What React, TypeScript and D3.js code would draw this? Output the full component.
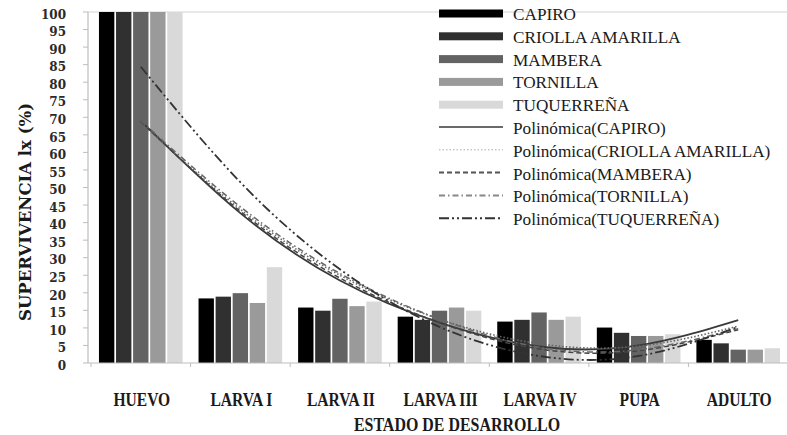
import React from "react";
import * as d3 from "d3";

const categories = ["HUEVO", "LARVA I", "LARVA II", "LARVA III", "LARVA IV", "PUPA", "ADULTO"];
const seriesNames = ["CAPIRO", "CRIOLLA AMARILLA", "MAMBERA", "TORNILLA", "TUQUERREÑA"];
const capiro = [100, 18.4, 15.8, 13.2, 11.8, 10.1, 6.6];
const criolla = [100, 18.9, 14.9, 12.3, 12.3, 8.6, 5.6];
const mambera = [100, 19.9, 18.3, 14.9, 14.4, 7.7, 3.8];
const tornilla = [100, 17.1, 16.2, 15.8, 12.3, 7.7, 3.8];
const tuquerrena = [100, 27.3, 17.5, 14.9, 13.2, 8.2, 4.2];
// polynomial trend curves read at each category
const trendCapiro = [69, 42.7, 23.5, 11.5, 4.7, 5, 12.2];
const trendCriolla = [68.5, 43.8, 25, 12.5, 5.5, 4.8, 10.5];
const trendMambera = [68.8, 43.2, 24.2, 11.5, 4, 3.5, 9.5];
const trendTornilla = [69, 44.5, 25.5, 12.5, 4.5, 3.8, 9.8];
const trendTuquerrena = [84.4, 51.5, 26.7, 10.3, 2, 2, 10.3];
const yTicks = d3.range(0, 101, 5);

const barValues = [capiro, criolla, mambera, tornilla, tuquerrena];
const trendValues = [trendCapiro, trendCriolla, trendMambera, trendTornilla, trendTuquerrena];
const barColors = ["#000000", "#303030", "#636363", "#9a9a9a", "#d9d9d9"];
const trendStyles = [
  { stroke: "#3a3a3a", width: 1.8, dash: "none", legendStroke: "#6a6a6a" },
  { stroke: "#666666", width: 1.6, dash: "1.5,2", legendStroke: "#aaaaaa" },
  { stroke: "#444444", width: 1.5, dash: "5,3", legendStroke: "#555555" },
  { stroke: "#666666", width: 1.5, dash: "6,3,1.5,3", legendStroke: "#888888" },
  { stroke: "#333333", width: 1.8, dash: "10,3,2,3,2,3", legendStroke: "#333333" },
];

export default function App() {
  const W = 787, H = 435;
  const axisX = 88;
  const x0 = d3.scaleBand<string>().domain(categories).range([91, 788]).paddingInner(0.16).paddingOuter(0.08);
  const x1 = d3.scaleBand<string>().domain(seriesNames).range([0, x0.bandwidth()]).paddingInner(0.1);
  const y = d3.scaleLinear().domain([0, 100]).range([363, 12]);
  const step = x0.step();
  const bandStart = (c: string) => (x0(c) as number) - x0.paddingOuter() * step;
  const center = (c: string) => (x0(c) as number) + x0.bandwidth() / 2;

  const line = d3
    .line<number>()
    .x((_, i) => center(categories[i]))
    .y((v) => y(v))
    .curve(d3.curveNatural);

  const boundaries = categories.map((c) => bandStart(c)).concat([bandStart(categories[6]) + step]);
  const legendY = (i: number) => 14 + i * 22.8;

  return (
    <svg width={W} height={H} style={{ position: "absolute", left: 0, top: 0, background: "#fff" }}>
      <line x1={axisX} x2={W} y1={y(100)} y2={y(100)} stroke="#d4d4d4" strokeWidth={1.2} />
      {categories.map((c, ci) => (
        <g key={c}>
          {seriesNames.map((s, si) => (
            <rect
              key={s}
              x={(x0(c) as number) + (x1(s) as number)}
              y={y(barValues[si][ci])}
              width={x1.bandwidth()}
              height={y(0) - y(barValues[si][ci])}
              fill={barColors[si]}
            />
          ))}
        </g>
      ))}
      {trendValues.map((tv, i) => (
        <path
          key={i}
          d={line(tv) || ""}
          fill="none"
          stroke={trendStyles[i].stroke}
          strokeWidth={trendStyles[i].width}
          strokeDasharray={trendStyles[i].dash}
        />
      ))}
      <line x1={axisX} x2={axisX} y1={y(100)} y2={y(0)} stroke="#bdbdbd" strokeWidth={1.2} />
      {yTicks.map((t) => (
        <g key={t}>
          <line x1={axisX - 5} x2={axisX} y1={y(t)} y2={y(t)} stroke="#bdbdbd" strokeWidth={1} />
          <text
            x={66}
            y={y(t) + 2.5}
            dy="0.35em"
            textAnchor="end"
            fontFamily="DejaVu Serif"
            fontWeight="bold"
            fontSize={12}
            fill="#2a2a2a"
          >
            {t}
          </text>
        </g>
      ))}
      <line x1={axisX} x2={W} y1={y(0)} y2={y(0)} stroke="#bdbdbd" strokeWidth={1.2} />
      {boundaries.map((b, i) => (
        <line key={i} x1={b} x2={b} y1={y(0)} y2={y(0) + 4} stroke="#bdbdbd" strokeWidth={1} />
      ))}
      {categories.map((c) => (
        <g key={c} transform={`translate(${center(c) + 1},406) scale(0.82,1)`}>
          <text textAnchor="middle" fontFamily="Liberation Serif" fontWeight="bold" fontSize={19} fill="#1a1a1a">
            {c}
          </text>
        </g>
      ))}
      <g transform={`translate(457,431) scale(0.84,1)`}>
        <text textAnchor="middle" fontFamily="Liberation Serif" fontWeight="bold" fontSize={19} fill="#1a1a1a">
          ESTADO DE DESARROLLO
        </text>
      </g>
      <text
        transform="translate(31,212) rotate(-90)"
        textAnchor="middle"
        fontFamily="DejaVu Serif"
        fontWeight="bold"
        fontSize={16.5}
        fill="#1a1a1a"
      >
        SUPERVIVENCIA lx (%)
      </text>
      {seriesNames.map((s, i) => (
        <g key={s}>
          <rect x={439} y={legendY(i) - 4.5} width={64} height={8} fill={barColors[i]} />
          <text x={513} y={legendY(i)} dy="0.35em" fontFamily="Liberation Serif" fontSize={17.2} fill="#1a1a1a">
            {s}
          </text>
        </g>
      ))}
      {seriesNames.map((s, i) => {
        const yy = legendY(i + 5);
        return (
          <g key={"t" + s}>
            <line
              x1={439}
              x2={503}
              y1={yy - 1}
              y2={yy - 1}
              stroke={trendStyles[i].legendStroke}
              strokeWidth={i === 1 ? 1 : 2}
              strokeDasharray={trendStyles[i].dash}
            />
            <text x={513} y={yy} dy="0.35em" fontFamily="Liberation Serif" fontSize={17.2} fill="#1a1a1a">
              {`Polinómica(${s})`}
            </text>
          </g>
        );
      })}
    </svg>
  );
}
